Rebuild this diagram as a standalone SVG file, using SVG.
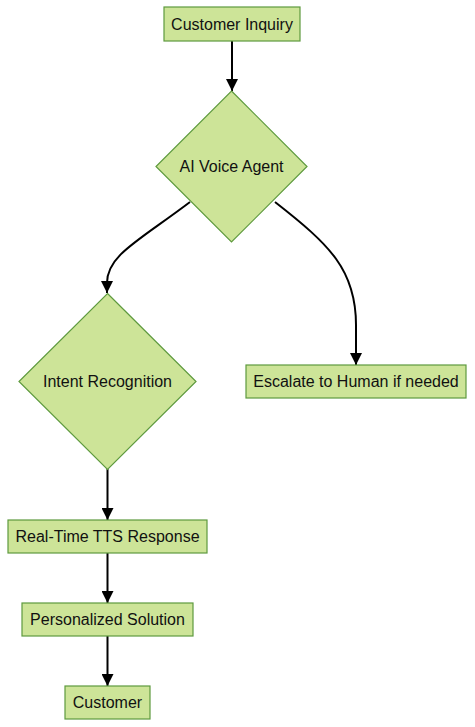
<svg xmlns="http://www.w3.org/2000/svg" width="475" height="727" viewBox="0 0 475 727">
<style>
.n{fill:#cde498;stroke:#5e9a3e;stroke-width:1.2}
.t{font-family:"Liberation Sans",Arial,sans-serif;font-size:16px;fill:#111;text-anchor:middle;dominant-baseline:central}
.e{fill:none;stroke:#000;stroke-width:2}
</style>
<defs>
<marker id="arr" viewBox="0 0 10 10" refX="10" refY="5" markerWidth="12" markerHeight="12" markerUnits="userSpaceOnUse" orient="auto">
<path d="M0,0 L10,5 L0,10 z" fill="#000"/>
</marker>
</defs>
<rect width="475" height="727" fill="#fff"/>
<g id="edges">
<path class="e" d="M232,41 L232,91" marker-end="url(#arr)"/>
<path class="e" d="M190,202 C140,240 107,255 107,283 L107,293" marker-end="url(#arr)"/>
<path class="e" d="M275,202 C330,245 356,270 356,325 L356,365" marker-end="url(#arr)"/>
<path class="e" d="M107.5,469 L107.5,520" marker-end="url(#arr)"/>
<path class="e" d="M107.5,553 L107.5,603" marker-end="url(#arr)"/>
<path class="e" d="M107.5,636 L107.5,686" marker-end="url(#arr)"/>
</g>
<g id="customer-inquiry">
<rect class="n" x="164" y="7" width="136" height="34"/>
<text class="t" x="232" y="24">Customer Inquiry</text>
</g>
<g id="ai-voice-agent">
<polygon class="n" points="231.5,91 307,166.5 231.5,242 156,166.5"/>
<text class="t" x="231.5" y="166.5">AI Voice Agent</text>
</g>
<g id="intent-recognition">
<polygon class="n" points="107.5,293.5 196,381.5 107.5,469.5 19,381.5"/>
<text class="t" x="107.5" y="381.5">Intent Recognition</text>
</g>
<g id="escalate">
<rect class="n" x="246" y="365" width="220" height="33"/>
<text class="t" x="356" y="381.5">Escalate to Human if needed</text>
</g>
<g id="tts-response">
<rect class="n" x="8" y="520" width="199" height="33"/>
<text class="t" x="107.5" y="536.5">Real-Time TTS Response</text>
</g>
<g id="personalized-solution">
<rect class="n" x="22" y="603" width="171" height="33"/>
<text class="t" x="107.5" y="619.5">Personalized Solution</text>
</g>
<g id="customer">
<rect class="n" x="65" y="686" width="85" height="33"/>
<text class="t" x="107.5" y="702.5">Customer</text>
</g>
</svg>
